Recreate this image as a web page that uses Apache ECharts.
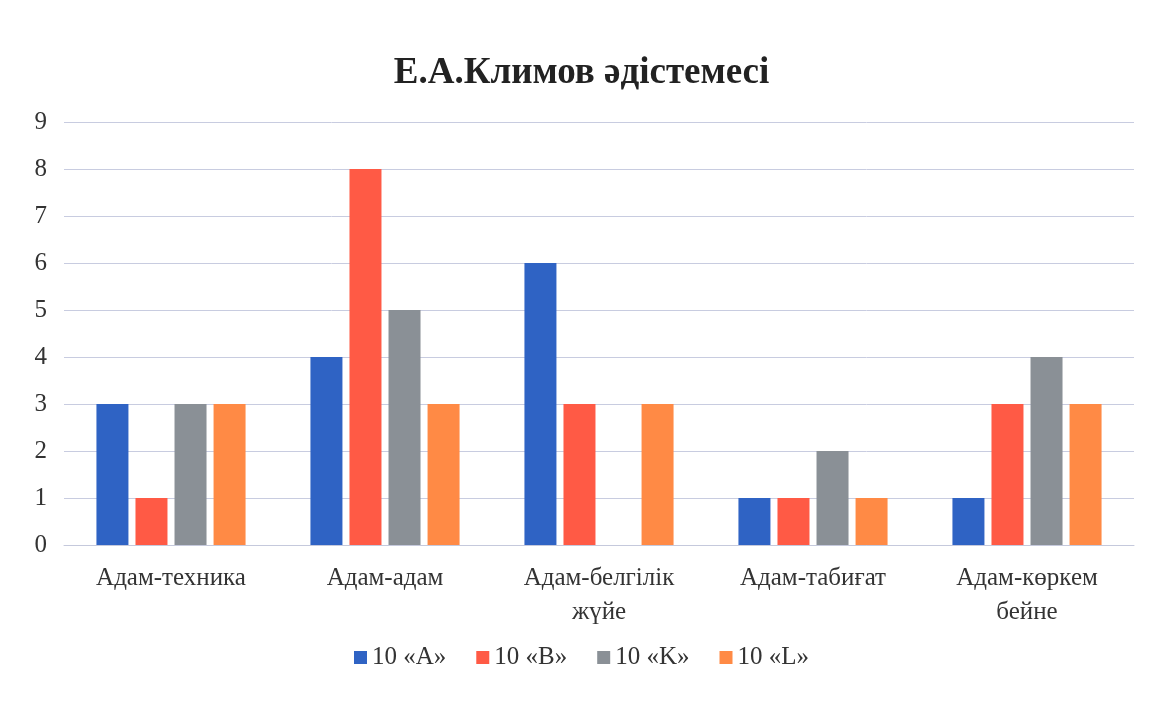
<!DOCTYPE html>
<html><head><meta charset="utf-8">
<script src="https://cdn.jsdelivr.net/npm/echarts@6/dist/echarts.min.js"></script>
<style>html,body{margin:0;padding:0;background:#fff}#c{width:1163px;height:703px}</style>
</head><body><div id="c"></div>
<script>
const categories = ['Адам-техника', 'Адам-адам', 'Адам-белгілік\nжүйе', 'Адам-табиғат', 'Адам-көркем\nбейне'];
const seriesNames = ['10 «A»', '10 «B»', '10 «K»', '10 «L»'];
const valuesA = [3, 4, 6, 1, 1];
const valuesB = [1, 8, 3, 1, 3];
const valuesK = [3, 5, 0, 2, 4];
const valuesL = [3, 3, 3, 1, 3];
const colors = ['#2F63C4', '#FF5A45', '#8A9096', '#FF8A45'];
const yTicks = [0, 9, 1];

const font = 'Liberation Serif';
const chart = echarts.init(document.getElementById('c'));
const all = [valuesA, valuesB, valuesK, valuesL];
chart.setOption({
  animation: false,
  title: {
    text: 'Е.А.Климов әдістемесі', left: 'center', top: 50,
    textStyle: { fontFamily: font, fontWeight: 'bold', fontSize: 37, color: '#222' }
  },
  legend: {
    bottom: 28, left: 'center', itemWidth: 13, itemHeight: 13, itemGap: 30,
    icon: 'rect',
    textStyle: { fontFamily: font, fontSize: 25, color: '#333' },
    data: seriesNames
  },
  grid: { left: 64, right: 29, top: 122, bottom: 158, containLabel: false },
  xAxis: {
    type: 'category', data: categories,
    axisTick: { show: false },
    axisLine: { lineStyle: { color: '#C5C9DC' } },
    axisLabel: { fontFamily: font, fontSize: 25, color: '#333', margin: 16, lineHeight: 34 }
  },
  yAxis: {
    type: 'value', min: yTicks[0], max: yTicks[1], interval: yTicks[2],
    axisLine: { show: false }, axisTick: { show: false },
    axisLabel: { fontFamily: font, fontSize: 25, color: '#333', margin: 17 },
    splitLine: { lineStyle: { color: '#C8CCE0' } }
  },
  series: seriesNames.map((n, i) => ({
    name: n, type: 'bar', data: all[i], barWidth: 32, barGap: '22%',
    itemStyle: { color: colors[i] }
  }))
});
</script></body></html>
